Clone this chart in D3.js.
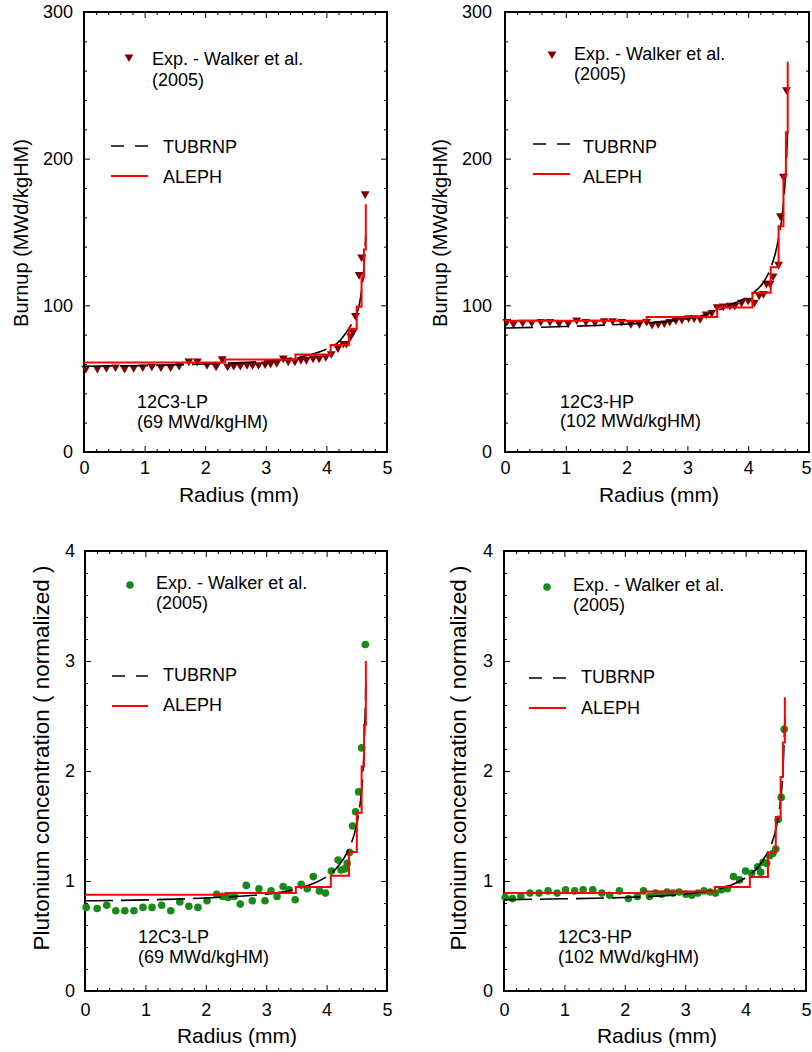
<!DOCTYPE html>
<html>
<head>
<meta charset="utf-8">
<script src="https://cdn.jsdelivr.net/npm/d3@7"></script>
<style>
  body { margin: 0; background: #fff; }
  text { font-family: "Liberation Sans", Arial, sans-serif; fill: #000; }
</style>
</head>
<body>
<svg id="chart" width="812" height="1052"></svg>
<script>
// tick labels
const radiusTicks = [0, 1, 2, 3, 4, 5]
const burnupTicks = [0, 100, 200, 300]
const puTicks = [0, 1, 2, 3, 4]

// Walker et al. (2005) measurements
const expR_BU_LP = [0.03,0.22,0.37,0.52,0.67,0.82,0.97,1.12,1.27,1.43,1.57,1.73,1.87,2.03,2.18,2.28,2.37,2.47,2.58,2.69,2.78,2.88,2.99,3.08,3.18,3.29,3.37,3.48,3.58,3.67,3.78,3.88,3.99,4.08,4.19,4.28,4.33,4.40,4.44,4.48,4.54,4.58,4.64]
const expBU_LP = [57,57,57.5,58,57,57.5,58,58.5,58,58,59,62,62,59.5,58.5,63.5,58.5,59,59,59.5,59.5,59.5,60,60.5,61,64,62,62,63,63,64,64,65,67,71,74,74,79,82,93,121,133,176]

const expR_BU_HP = [0.03,0.14,0.29,0.44,0.59,0.74,0.89,1.04,1.18,1.33,1.48,1.63,1.77,1.92,2.07,2.21,2.33,2.42,2.52,2.62,2.71,2.81,2.91,3.02,3.11,3.21,3.31,3.40,3.49,3.59,3.70,3.78,3.89,4.00,4.10,4.18,4.25,4.30,4.36,4.41,4.50,4.53,4.58,4.63]
const expBU_HP = [89,87.5,88.5,88.5,89,89,88,88,90,89,88.5,89.5,89.5,89,87.5,87.5,89,87,87.5,88,89,90,90.5,91.5,91.5,91,94,95,99,99.5,100,100,102,103.5,102,107,108,115,115,120,128,161,188,247]

const expR_PU_LP = [0.02,0.20,0.36,0.51,0.66,0.81,0.96,1.11,1.27,1.42,1.57,1.72,1.87,2.02,2.18,2.28,2.37,2.47,2.57,2.67,2.77,2.88,2.98,3.08,3.18,3.28,3.38,3.48,3.58,3.68,3.78,3.88,3.98,4.08,4.19,4.24,4.30,4.34,4.38,4.43,4.48,4.53,4.58,4.64]
const expPU_LP = [0.76,0.75,0.78,0.73,0.73,0.73,0.76,0.76,0.78,0.73,0.81,0.77,0.76,0.82,0.88,0.86,0.85,0.86,0.79,0.96,0.82,0.93,0.82,0.91,0.86,0.95,0.92,0.83,0.97,0.93,1.04,0.91,0.89,1.09,1.19,1.10,1.11,1.16,1.26,1.50,1.63,1.81,2.21,3.15]

const expR_PU_HP = [0.02,0.14,0.28,0.43,0.58,0.73,0.88,1.02,1.17,1.31,1.47,1.62,1.75,1.91,2.06,2.21,2.31,2.41,2.51,2.61,2.70,2.80,2.90,3.01,3.11,3.21,3.31,3.41,3.50,3.60,3.70,3.80,3.90,4.00,4.10,4.20,4.25,4.29,4.35,4.40,4.45,4.50,4.54,4.59,4.64]
const expPU_HP = [0.85,0.84,0.86,0.89,0.89,0.91,0.89,0.92,0.91,0.92,0.92,0.89,0.87,0.91,0.84,0.86,0.91,0.86,0.89,0.88,0.90,0.89,0.90,0.88,0.87,0.89,0.91,0.90,0.89,0.92,0.93,1.04,1.01,1.09,1.07,1.13,1.08,1.17,1.16,1.23,1.25,1.29,1.56,1.76,2.38]

// TUBRNP calculation
const tubR = [0,0.5,1,1.5,2,2.5,3,3.25,3.5,3.75,4,4.1,4.2,4.3,4.4,4.45,4.5,4.55,4.6,4.63,4.65]
const tubBU_LP = [58.5,58.7,59,59.4,60,60.8,62,63,64.5,66.5,70,72,75,80,86,89.5,94,102,117,132,148]
const tubBU_HP = [84.5,85,85.6,86.3,87.2,88.5,90.8,93,96.5,101,106,109,113,119,129,136,146,158,180,200,220]
const tubPU_LP = [0.82,0.823,0.828,0.835,0.845,0.86,0.88,0.9,0.925,0.97,1.04,1.08,1.14,1.22,1.33,1.41,1.52,1.68,1.97,2.35,2.8]
const tubPU_HP = [0.83,0.834,0.838,0.843,0.85,0.862,0.88,0.897,0.92,0.96,1.03,1.07,1.12,1.2,1.3,1.37,1.47,1.62,1.85,2.15,2.48]

// ALEPH zone values (step starts)
const alephR = [0,2.33,3.49,4.07,4.37,4.5,4.58,4.62,4.65]
const alephBU_LP = [61,63,66.5,73,84,99,119,138,169]
const alephBU_HP = [89.5,92,98.5,108.5,126,154,188,218,266]
const alephPU_LP = [0.875,0.89,0.945,1.048,1.264,1.62,2.04,2.42,3.0]
const alephPU_HP = [0.89,0.905,0.945,1.036,1.26,1.58,1.945,2.26,2.67]

const panels = [
  { left: 84, right: 387, top: 12, bottom: 452, yMax: 300, yTicks: burnupTicks, yMinor: 20,
    xPad: 9, yPad: 11, marker: "tri",
    expR: expR_BU_LP, exp: expBU_LP, tub: tubBU_LP, aleph: alephBU_LP,
    yTitle: "Burnup (MWd/kgHM)", yTitlePos: [28, 233, 20], xTitlePos: [239, 502],
    leg: { mx: 129, my: 57, tx: 152, ty: [65, 86], lx: [111, 148], ly: [146, 176], lt: 163, lty: [153, 183] },
    note: ["12C3-LP", "(69 MWd/kgHM)"], notePos: [137, 408, 428] },
  { left: 505, right: 809, top: 12, bottom: 452, yMax: 300, yTicks: burnupTicks, yMinor: 20,
    xPad: 9, yPad: 13, marker: "tri", edgeLabel: true,
    expR: expR_BU_HP, exp: expBU_HP, tub: tubBU_HP, aleph: alephBU_HP,
    yTitle: "Burnup (MWd/kgHM)", yTitlePos: [447, 233, 20], xTitlePos: [659, 502],
    leg: { mx: 552, my: 54, tx: 574, ty: [60, 80], lx: [533, 570], ly: [144, 174], lt: 583, lty: [153, 183] },
    note: ["12C3-HP", "(102 MWd/kgHM)"], notePos: [560, 408, 427] },
  { left: 85, right: 387, top: 551, bottom: 991, yMax: 4, yTicks: puTicks, yMinor: 0.2,
    xPad: 12, yPad: 10, marker: "dot",
    expR: expR_PU_LP, exp: expPU_LP, tub: tubPU_LP, aleph: alephPU_LP,
    yTitle: "Plutonium concentration ( normalized )", yTitlePos: [49, 758, 22.5], xTitlePos: [237, 1043],
    leg: { mx: 130, my: 585, tx: 156, ty: [589, 609], lx: [112, 148], ly: [676, 706], lt: 163, lty: [681, 711] },
    note: ["12C3-LP", "(69 MWd/kgHM)"], notePos: [138, 943, 963] },
  { left: 504, right: 806, top: 551, bottom: 991, yMax: 4, yTicks: puTicks, yMinor: 0.2,
    xPad: 12, yPad: 11, marker: "dot",
    expR: expR_PU_HP, exp: expPU_HP, tub: tubPU_HP, aleph: alephPU_HP,
    yTitle: "Plutonium concentration ( normalized )", yTitlePos: [466, 758, 22.5], xTitlePos: [657, 1043],
    leg: { mx: 547, my: 587, tx: 573, ty: [591, 611], lx: [529, 566], ly: [678, 708], lt: 581, lty: [683, 714] },
    note: ["12C3-HP", "(102 MWd/kgHM)"], notePos: [558, 943, 963] }
]

const expRed = "#800000"
const expGreen = "#178a17"
const svg = d3.select("#chart")
const triangle = d3.symbol().type(d3.symbolTriangle).size(34)

function minorValues(max, step) {
  const out = []
  for (let i = 1; i * step < max - 1e-9; i++) {
    const v = i * step
    if (Math.abs(v / (step * 5) - Math.round(v / (step * 5))) > 1e-6) out.push(v)
  }
  return out
}

function addMarker(g, mx, my, kind) {
  if (kind === "tri")
    g.append("path").attr("d", triangle)
      .attr("transform", `translate(${mx},${my}) rotate(180)`)
      .attr("fill", expRed)
  else
    g.append("circle").attr("cx", mx).attr("cy", my).attr("r", 3.8).attr("fill", expGreen)
}

function drawPanel(p) {
  const x = d3.scaleLinear().domain([0, 5]).range([p.left, p.right])
  const y = d3.scaleLinear().domain([0, p.yMax]).range([p.bottom, p.top])
  const g = svg.append("g")
  const xMinor = minorValues(5, 0.2)
  const yMinor = minorValues(p.yMax, p.yMinor)

  // axes, ticks inward on all four sides
  const xAxis = g.append("g").attr("transform", `translate(0,${p.bottom})`)
    .call(d3.axisBottom(x).tickValues(radiusTicks).tickSize(-6).tickPadding(p.xPad).tickFormat(d3.format("d")))
  g.append("g").attr("transform", `translate(0,${p.bottom})`)
    .call(d3.axisBottom(x).tickValues(xMinor).tickSize(-3).tickFormat(""))
  g.append("g").attr("transform", `translate(0,${p.top})`)
    .call(d3.axisTop(x).tickValues(radiusTicks).tickSize(-6).tickFormat(""))
  g.append("g").attr("transform", `translate(0,${p.top})`)
    .call(d3.axisTop(x).tickValues(xMinor).tickSize(-3).tickFormat(""))
  g.append("g").attr("transform", `translate(${p.left},0)`)
    .call(d3.axisLeft(y).tickValues(p.yTicks).tickSize(-6).tickPadding(p.yPad).tickFormat(d3.format("d")))
  g.append("g").attr("transform", `translate(${p.left},0)`)
    .call(d3.axisLeft(y).tickValues(yMinor).tickSize(-3).tickFormat(""))
  g.append("g").attr("transform", `translate(${p.right},0)`)
    .call(d3.axisRight(y).tickValues(p.yTicks).tickSize(-6).tickFormat(""))
  g.append("g").attr("transform", `translate(${p.right},0)`)
    .call(d3.axisRight(y).tickValues(yMinor).tickSize(-3).tickFormat(""))

  g.selectAll(".domain").remove()
  g.selectAll(".tick line").attr("stroke", "#000").attr("stroke-width", 1)
  g.selectAll(".tick text").attr("font-size", 18).attr("font-family", null).attr("fill", "#000")

  // last radius label sits at the page edge: keep it inside
  if (p.edgeLabel)
    xAxis.selectAll(".tick text").filter(d => d === 5)
      .attr("text-anchor", "end").attr("x", 811 - p.right)

  g.append("rect")
    .attr("x", p.left).attr("y", p.top)
    .attr("width", p.right - p.left).attr("height", p.bottom - p.top)
    .attr("fill", "none").attr("stroke", "#000").attr("stroke-width", 2)

  // measurements
  const pts = p.expR.map((r, i) => [r, p.exp[i]])
  if (p.marker === "tri") {
    g.append("g").selectAll("path").data(pts).enter().append("path")
      .attr("d", triangle)
      .attr("transform", d => `translate(${x(d[0])},${y(d[1])}) rotate(180)`)
      .attr("fill", expRed)
  } else {
    g.append("g").selectAll("circle").data(pts).enter().append("circle")
      .attr("cx", d => x(d[0])).attr("cy", d => y(d[1])).attr("r", 3.8)
      .attr("fill", expGreen)
  }

  // TUBRNP
  const tubLine = d3.line().x(d => x(d[0])).y(d => y(d[1])).curve(d3.curveMonotoneX)
  g.append("path")
    .attr("d", tubLine(tubR.map((r, i) => [r, p.tub[i]])))
    .attr("fill", "none").attr("stroke", "#000").attr("stroke-width", 1.6)
    .attr("stroke-dasharray", "28,8")

  // ALEPH
  const stepLine = d3.line().x(d => x(d[0])).y(d => y(d[1])).curve(d3.curveStepAfter)
  g.append("path")
    .attr("d", stepLine(alephR.map((r, i) => [r, p.aleph[i]])))
    .attr("fill", "none").attr("stroke", "#ff0000").attr("stroke-width", 2)

  // legend
  const L = p.leg
  addMarker(g, L.mx, L.my, p.marker)
  g.append("text").attr("x", L.tx).attr("y", L.ty[0]).attr("font-size", 18).text("Exp. - Walker et al.")
  g.append("text").attr("x", L.tx).attr("y", L.ty[1]).attr("font-size", 18).text("(2005)")
  g.append("line").attr("x1", L.lx[0]).attr("x2", L.lx[1]).attr("y1", L.ly[0]).attr("y2", L.ly[0])
    .attr("stroke", "#000").attr("stroke-width", 1.6).attr("stroke-dasharray", "13,11")
  g.append("text").attr("x", L.lt).attr("y", L.lty[0]).attr("font-size", 18).text("TUBRNP")
  g.append("line").attr("x1", L.lx[0]).attr("x2", L.lx[1]).attr("y1", L.ly[1]).attr("y2", L.ly[1])
    .attr("stroke", "#ff0000").attr("stroke-width", 2)
  g.append("text").attr("x", L.lt).attr("y", L.lty[1]).attr("font-size", 18).text("ALEPH")

  // sample label
  g.append("text").attr("x", p.notePos[0]).attr("y", p.notePos[1]).attr("font-size", 18).text(p.note[0])
  g.append("text").attr("x", p.notePos[0]).attr("y", p.notePos[2]).attr("font-size", 18).text(p.note[1])

  // axis titles
  g.append("text")
    .attr("transform", `translate(${p.xTitlePos[0]},${p.xTitlePos[1]})`)
    .attr("text-anchor", "middle").attr("font-size", 21)
    .text("Radius (mm)")
  g.append("text")
    .attr("transform", `translate(${p.yTitlePos[0]},${p.yTitlePos[1]}) rotate(-90)`)
    .attr("text-anchor", "middle").attr("font-size", p.yTitlePos[2])
    .text(p.yTitle)
}

panels.forEach(drawPanel)
</script>
</body>
</html>
